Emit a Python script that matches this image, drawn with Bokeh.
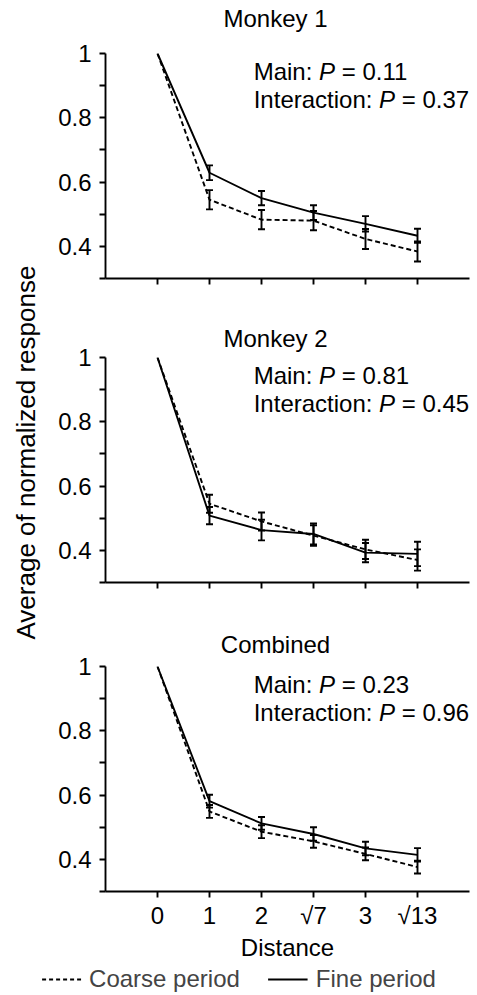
from bokeh.plotting import figure
from bokeh.models import (Range1d, FixedTicker, Whisker, TeeHead, ColumnDataSource,
                          Label, Legend, LegendItem)
from bokeh.layouts import column, row
from bokeh.embed import file_html
from bokeh.resources import INLINE

FONT = "Liberation Sans"
FS_PX = 24.0
FS = "24px"

# ---------------- data ----------------
distances = ["0", "1", "2", "√7", "3", "√13"]
panel_titles = ["Monkey 1", "Monkey 2", "Combined"]
p_main = ["0.11", "0.81", "0.23"]
p_inter = ["0.37", "0.45", "0.96"]

fine_m1 = [1.0, 0.629, 0.550, 0.505, 0.470, 0.433]
fine_m1_err = [0.0, 0.023, 0.022, 0.023, 0.024, 0.022]
coarse_m1 = [1.0, 0.545, 0.483, 0.480, 0.423, 0.384]
coarse_m1_err = [0.0, 0.030, 0.030, 0.030, 0.031, 0.031]

fine_m2 = [1.0, 0.508, 0.463, 0.451, 0.393, 0.389]
fine_m2_err = [0.0, 0.027, 0.032, 0.033, 0.030, 0.038]
coarse_m2 = [1.0, 0.545, 0.490, 0.446, 0.403, 0.370]
coarse_m2_err = [0.0, 0.028, 0.028, 0.032, 0.030, 0.033]

fine_c = [1.0, 0.581, 0.512, 0.479, 0.434, 0.414]
fine_c_err = [0.0, 0.020, 0.020, 0.021, 0.021, 0.021]
coarse_c = [1.0, 0.549, 0.486, 0.456, 0.417, 0.376]
coarse_c_err = [0.0, 0.020, 0.020, 0.020, 0.020, 0.020]

y_ticks = [0.4, 0.6, 0.8, 1.0]
y_minor = [0.3, 0.5, 0.7, 0.9]

LW = 1.9
X_RANGE = (-1, 6)

# approximate advance widths (em) of Liberation Sans, for placing text runs
EM = {"Main: ": 2.723, "Interaction: ": 5.225, "P": 0.667, " ": 0.278,
      "Monkey 1": 4.335, "Monkey 2": 4.335, "Combined": 4.557}
TITLE_CENTER_PX = 170  # title centre, measured from the frame's left edge


def style_axis(ax):
    ax.axis_line_width = LW
    ax.axis_line_color = "black"
    ax.major_tick_line_width = LW
    ax.minor_tick_line_width = LW
    ax.major_tick_line_color = "black"
    ax.minor_tick_line_color = "black"
    ax.major_tick_in = 0
    ax.major_tick_out = 6
    ax.minor_tick_in = 0
    ax.minor_tick_out = 6
    ax.major_label_text_font = FONT
    ax.major_label_text_font_size = FS
    ax.major_label_text_color = "black"
    ax.axis_label_text_font = FONT
    ax.axis_label_text_font_size = FS
    ax.axis_label_text_font_style = "normal"
    ax.axis_label_text_color = "black"


def blank(p):
    p.axis.visible = False
    p.grid.visible = False
    p.outline_line_color = None


def make_panel(i, fine, fine_err, coarse, coarse_err, top, bottom, show_x, standoff):
    p = figure(frame_width=364, frame_height=225,
               min_border_left=56, min_border_right=8,
               min_border_top=top, min_border_bottom=bottom,
               x_range=Range1d(*X_RANGE), y_range=Range1d(0.3, 1.0),
               output_backend="svg", toolbar_location=None)
    p.outline_line_color = None
    p.xgrid.visible = False
    p.ygrid.visible = False
    if standoff is None:
        p.title.visible = False
    else:
        t = panel_titles[i]
        p.title.text = t
        p.title.align = "left"
        p.title.offset = TITLE_CENTER_PX - EM[t] * FS_PX / 2.0
        p.title.text_font = FONT
        p.title.text_font_size = FS
        p.title.text_font_style = "normal"
        p.title.text_color = "black"
        p.title.standoff = standoff

    xs = list(range(len(distances)))
    style_axis(p.xaxis[0])
    style_axis(p.yaxis[0])
    p.xaxis.ticker = FixedTicker(ticks=xs)
    p.xaxis.minor_tick_line_color = None
    if show_x:
        p.xaxis.major_label_overrides = {k: lab for k, lab in enumerate(distances)}
        p.xaxis.axis_label = "Distance"
        p.xaxis.major_label_standoff = 4
        p.xaxis.axis_label_standoff = 2
    else:
        p.xaxis.major_label_overrides = {k: "" for k in xs}
        p.xaxis.major_label_standoff = 0
    p.yaxis.ticker = FixedTicker(ticks=y_ticks, minor_ticks=y_minor)
    p.yaxis.major_label_overrides = {1: "1"}
    p.yaxis.major_label_standoff = 8

    src = ColumnDataSource(dict(x=xs, fine=fine, coarse=coarse))
    p.line("x", "coarse", source=src, line_color="black", line_width=LW, line_dash="5 3")
    p.line("x", "fine", source=src, line_color="black", line_width=LW)

    for vals, errs in ((coarse, coarse_err), (fine, fine_err)):
        ex = xs[1:]
        up = [v + e for v, e in zip(vals[1:], errs[1:])]
        lo = [v - e for v, e in zip(vals[1:], errs[1:])]
        wsrc = ColumnDataSource(dict(x=ex, up=up, lo=lo))
        w = Whisker(base="x", upper="up", lower="lo", source=wsrc,
                    line_color="black", line_width=LW,
                    upper_head=TeeHead(size=7, line_width=LW, line_color="black"),
                    lower_head=TeeHead(size=7, line_width=LW, line_color="black"))
        p.add_layout(w)

    # P-value annotations (italic P)
    for txt, val, yv in (("Main: ", p_main[i], 0.943), ("Interaction: ", p_inter[i], 0.857)):
        w_pre = EM[txt] * FS_PX
        w_p = (EM["P"] + EM[" "]) * FS_PX
        common = dict(x=1.85, y=yv, text_font=FONT, text_font_size=FS,
                      text_color="black", text_baseline="middle", text_align="left")
        p.add_layout(Label(text=txt.strip(), x_offset=0, **common))
        p.add_layout(Label(text="P", x_offset=w_pre, text_font_style="italic", **common))
        p.add_layout(Label(text="= " + val, x_offset=w_pre + w_p, **common))
    return p, src


# strip holding the first panel's title (room above panel 1 is larger than a title needs)
t1 = figure(frame_width=364, frame_height=36, min_border_left=56, min_border_right=8,
            min_border_top=0, min_border_bottom=0,
            x_range=Range1d(*X_RANGE), y_range=Range1d(0, 1),
            output_backend="svg", toolbar_location=None)
t1.title.visible = False
blank(t1)
t1.add_layout(Label(text=panel_titles[0], x=0, y=0.5, x_units="data",
                    x_offset=TITLE_CENTER_PX - 52.0,
                    text_font=FONT, text_font_size=FS, text_color="black",
                    text_align="center", text_baseline="middle"))

f1, s1 = make_panel(0, fine_m1, fine_m1_err, coarse_m1, coarse_m1_err, 17, 32, False, None)
f2, s2 = make_panel(1, fine_m2, fine_m2_err, coarse_m2, coarse_m2_err, 47, 36, False, 11)
f3, s3 = make_panel(2, fine_c, fine_c_err, coarse_c, coarse_c_err, 48, 72, True, 17)

# y-axis label strip
ylab = figure(width=49, height=963, min_border_left=48, min_border_right=0,
              min_border_top=0, min_border_bottom=0,
              x_range=Range1d(0, 1), y_range=Range1d(0, 1),
              title="Average of normalized response", title_location="left",
              output_backend="svg", toolbar_location=None)
blank(ylab)
ylab.title.align = "left"
ylab.title.offset = 324
ylab.title.text_font = FONT
ylab.title.text_font_size = "26px"
ylab.title.text_font_style = "normal"
ylab.title.text_color = "black"
ylab.title.standoff = 18

# legend strip (proxy renderers use panel-3 data, kept outside the visible range)
leg = figure(width=477, height=32, min_border=0,
             x_range=Range1d(0, 1), y_range=Range1d(5, 6),
             output_backend="svg", toolbar_location=None)
leg.title.visible = False
blank(leg)
r1 = leg.line("x", "coarse", source=s3, line_color="black", line_width=LW, line_dash="4 3")
r2 = leg.line("x", "fine", source=s3, line_color="black", line_width=LW)
legend = Legend(items=[LegendItem(label="Coarse period", renderers=[r1]),
                       LegendItem(label="Fine period", renderers=[r2])],
                orientation="horizontal", location="center",
                label_text_font=FONT, label_text_font_size=FS,
                glyph_width=40, spacing=28, label_standoff=8,
                border_line_color=None, background_fill_alpha=0,
                padding=0, margin=0)
leg.add_layout(legend)

layout = column(row(ylab, column(t1, f1, f2, f3, spacing=0), spacing=0), leg, spacing=0)
open("out.html", "w").write(file_html(layout, INLINE))
